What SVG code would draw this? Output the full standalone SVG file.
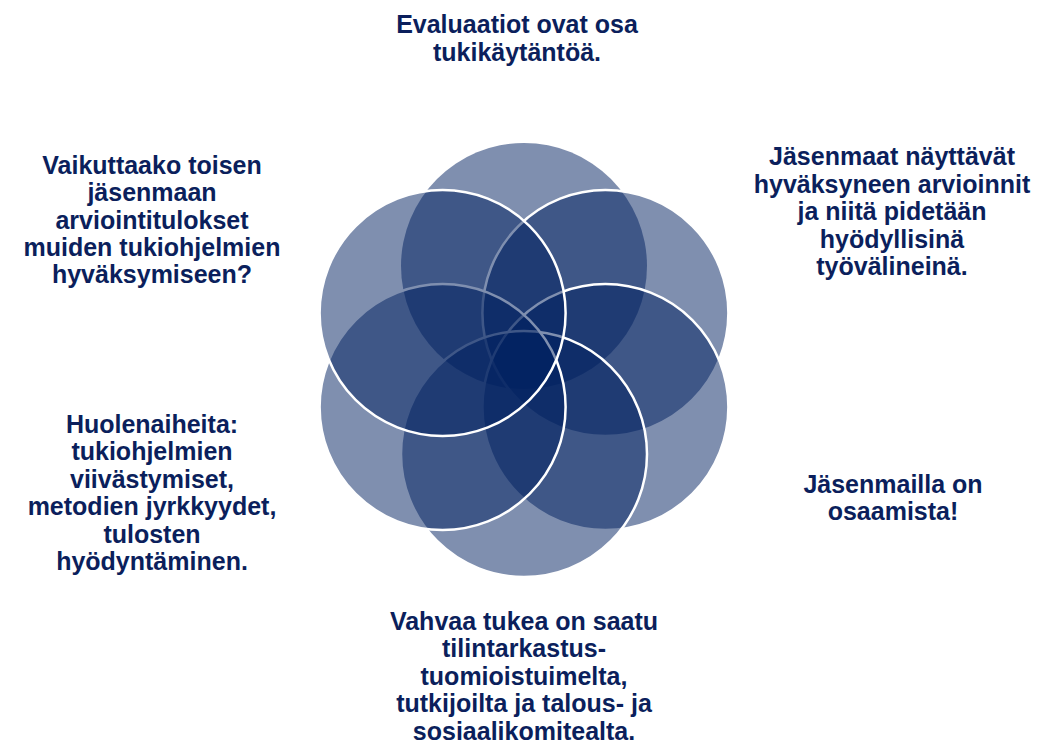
<svg xmlns="http://www.w3.org/2000/svg" width="1050" height="744" viewBox="0 0 1050 744">
  <style>
    .c { fill: #002060; fill-opacity: 0.5; stroke: #ffffff; stroke-width: 2.5; }
    .c0 { fill: #002060; fill-opacity: 0.5; stroke: none; }
    .t { font-family: "Liberation Sans", Arial, sans-serif; font-weight: bold; font-size: 25px; fill: #0b1f5c; text-anchor: middle; }
  </style>
  <rect width="1050" height="744" fill="#ffffff"/>
  <g id="flower">
    <circle id="c-top" class="c0" cx="524" cy="266" r="123"/>
    <circle id="c-upper-right" class="c" cx="605.4" cy="313" r="123"/>
    <circle id="c-lower-right" class="c" cx="605.4" cy="407" r="123"/>
    <circle id="c-bottom" class="c" cx="524" cy="454" r="123"/>
    <circle id="c-lower-left" class="c" cx="442.6" cy="407" r="123"/>
    <circle id="c-upper-left" class="c" cx="442.6" cy="313" r="123"/>
  </g>
  <g id="label-top">
    <text class="t" x="517" y="33">Evaluaatiot ovat osa</text>
    <text class="t" x="517" y="61">tukikäytäntöä.</text>
  </g>
  <g id="label-upper-right">
    <text class="t" x="892" y="165">Jäsenmaat näyttävät</text>
    <text class="t" x="892" y="193">hyväksyneen arvioinnit</text>
    <text class="t" x="892" y="220">ja niitä pidetään</text>
    <text class="t" x="892" y="248">hyödyllisinä</text>
    <text class="t" x="892" y="275">työvälineinä.</text>
  </g>
  <g id="label-upper-left">
    <text class="t" x="152" y="174">Vaikuttaako toisen</text>
    <text class="t" x="152" y="201">jäsenmaan</text>
    <text class="t" x="152" y="229">arviointitulokset</text>
    <text class="t" x="152" y="256">muiden tukiohjelmien</text>
    <text class="t" x="152" y="283">hyväksymiseen?</text>
  </g>
  <g id="label-lower-left">
    <text class="t" x="152" y="433">Huolenaiheita:</text>
    <text class="t" x="152" y="460">tukiohjelmien</text>
    <text class="t" x="152" y="488">viivästymiset,</text>
    <text class="t" x="152" y="515">metodien jyrkkyydet,</text>
    <text class="t" x="152" y="543">tulosten</text>
    <text class="t" x="152" y="570">hyödyntäminen.</text>
  </g>
  <g id="label-lower-right">
    <text class="t" x="893" y="493">Jäsenmailla on</text>
    <text class="t" x="893" y="520">osaamista!</text>
  </g>
  <g id="label-bottom">
    <text class="t" x="524" y="630">Vahvaa tukea on saatu</text>
    <text class="t" x="524" y="657">tilintarkastus-</text>
    <text class="t" x="524" y="685">tuomioistuimelta,</text>
    <text class="t" x="524" y="712">tutkijoilta ja talous- ja</text>
    <text class="t" x="524" y="740">sosiaalikomitealta.</text>
  </g>
  <g id="connectors"></g>
</svg>
